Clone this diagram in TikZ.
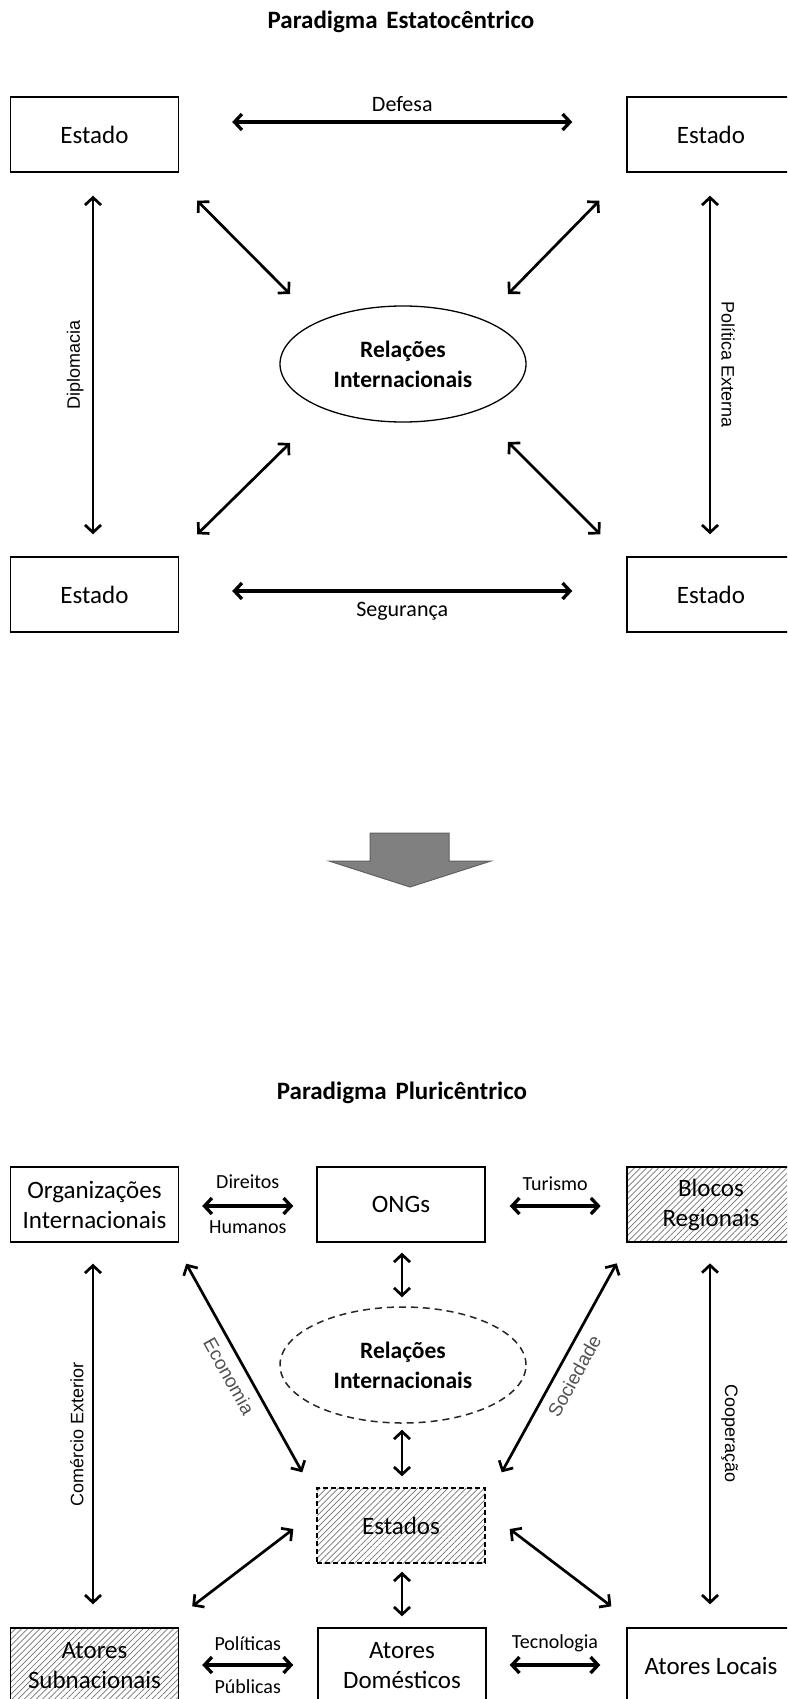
\documentclass[tikz,border=0pt]{standalone}
\usepackage{fontspec}
\setmainfont{Carlito}
\newfontfamily\arialfont{Liberation Sans}
\usetikzlibrary{arrows.meta,shapes.geometric,patterns.meta}

\newcommand\lblsmall{\fontsize{20}{24}\selectfont}
\newcommand\lblbig{\fontsize{22}{26}\selectfont}
\newcommand\vlbl{\arialfont\fontsize{18}{22}\selectfont}
\newcommand\glbl{\arialfont\fontsize{19}{22}\selectfont}

\begin{document}
\begin{tikzpicture}[x=1pt,y=-1pt,
  every node/.style={inner sep=0pt},
  box/.style={draw, line width=1.4pt, minimum width=168pt, minimum height=75pt,
    align=center, font=\fontsize{25}{30}\selectfont},
  hatched/.style={pattern={Lines[angle=45,distance=4.3pt,line width=0.7pt]},
    pattern color=black!55},
  rel/.style={ellipse, draw, line width=1.3pt, minimum width=246pt,
    minimum height=116pt, align=center,
    font=\bfseries\fontsize{23.5}{30}\selectfont},
  arr/.style={{Straight Barb[length=7.5pt,width=16pt]}-{Straight Barb[length=7.5pt,width=16pt]},
    line width=2.7pt},
  harr/.style={arr, line width=3.3pt},
  ttl/.style={anchor=base, font=\bfseries\fontsize{25}{30}\selectfont}
]
\clip (0,0) rectangle (787,1699);

% ---------- state-centric paradigm ----------
\node[ttl] (t1) at (401,29) {Paradigma\hspace{0.35em}Estatocêntrico};

\node[box] (e1) at (94.5,134.5) {Estado};
\node[box] (e2) at (711,134.5) {Estado};
\node[box] (e3) at (94.5,594.5) {Estado};
\node[box] (e4) at (711,594.5) {Estado};
\node[rel] (ri1) at (403,364) {Relações\\Internacionais};

\draw[harr] ([shift={(53,-12.5)}]e1.east) -- ([shift={(-54,-12.5)}]e2.west)
  node[midway, anchor=base, yshift=10pt, font=\lblbig] {Defesa};
\draw[harr] ([shift={(53,-3.5)}]e3.east) -- ([shift={(-54,-3.5)}]e4.west)
  node[midway, anchor=base, yshift=-25pt, font=\lblbig] {Segurança};

\draw[arr] ([shift={(-1.5,23)}]e1.south) -- ([shift={(-1.5,-22)}]e3.north)
  node[midway, rotate=90, anchor=south, inner sep=8pt, font=\vlbl] {Diplomacia};
\draw[arr] ([shift={(-1,23)}]e2.south) -- ([shift={(-1,-22)}]e4.north)
  node[midway, rotate=-90, anchor=south, inner sep=10pt, font=\vlbl] {Política Externa};

\draw[arr] ([shift={(18,28)}]e1.south east) -- ([shift={(-113,-70)}]ri1.center);
\draw[arr] ([shift={(-27,28)}]e2.south west) -- ([shift={(105,-70)}]ri1.center);
\draw[arr] ([shift={(-113,79)}]ri1.center) -- ([shift={(18,-22)}]e3.north east);
\draw[arr] ([shift={(105,78)}]ri1.center) -- ([shift={(-26,-22)}]e4.north west);

% ---------- transition arrow ----------
\draw[fill=black!50, draw=black!62, line width=1pt]
  (370,833) -- (449,833) -- (449,861) -- (491,861) -- (410,887)
  -- (329,861) -- (370,861) -- cycle;

% ---------- pluricentric paradigm ----------
\node[ttl] (t2) at (402,1099) {Paradigma\hspace{0.35em}Pluricêntrico};

\node[box] (oi) at (94.5,1204.5) {Organizações\\Internacionais};
\node[box] (ongs) at (401,1204.5) {ONGs};
\node[box, hatched] (blocos) at (711,1204.5) {Blocos\\Regionais};
\node[rel, draw=black!85, line width=1.5pt, dash pattern=on 7pt off 5pt] (ri2) at (403,1365)
  {Relações\\Internacionais};
\node[box, hatched, dash pattern=on 5pt off 3pt] (estados) at (401,1525.5) {Estados};
\node[box, hatched] (subn) at (94.5,1665.5) {Atores\\Subnacionais};
\node[box] (dom) at (402,1665.5) {Atores\\Domésticos};
\node[box] (locais) at (711,1665.5) {Atores Locais};

\draw[harr] ([shift={(23,1.5)}]oi.east) -- ([shift={(-23,1.5)}]ongs.west)
  node[midway, anchor=base, yshift=18pt, font=\lblsmall] {Direitos}
  node[midway, anchor=base, yshift=-27pt, font=\lblsmall] {Humanos};
\draw[harr] ([shift={(24,1.5)}]ongs.east) -- ([shift={(-26,1.5)}]blocos.west)
  node[midway, anchor=base, yshift=16pt, font=\lblsmall] {Turismo};

\draw[arr] ([shift={(1,10)}]ongs.south) -- ([shift={(-1,-9)}]ri2.north);
\draw[arr] ([shift={(-1,6)}]ri2.south) -- ([shift={(1,-11)}]estados.north);
\draw[arr] ([shift={(1,8)}]estados.south) -- ([shift={(0,-11)}]dom.north);

\draw[arr] ([shift={(-1.5,21)}]oi.south) -- ([shift={(-1.5,-23)}]subn.north)
  node[midway, rotate=90, anchor=south, inner sep=8pt, font=\vlbl] {Comércio Exterior};
\draw[arr] ([shift={(-1,21)}]blocos.south) -- ([shift={(-1,-23)}]locais.north)
  node[midway, rotate=-90, anchor=south, inner sep=10pt, font=\vlbl] {Cooperação};

\draw[arr] ([shift={(7,21)}]oi.south east) -- ([shift={(-14,-15)}]estados.north west)
  node[pos=0.5, sloped, below, inner sep=9pt, font=\glbl, text=black!68] {Economia};
\draw[arr] ([shift={(-10,21)}]blocos.south west) -- ([shift={(16,-15)}]estados.north east)
  node[pos=0.5, sloped, below, inner sep=9pt, font=\glbl, text=black!68] {Sociedade};

\draw[arr] ([shift={(-23,3.5)}]estados.west) -- ([shift={(13,-21)}]subn.north east);
\draw[arr] ([shift={(24,3.5)}]estados.east) -- ([shift={(-15,-21)}]locais.north west);

\draw[harr] ([shift={(23,-0.5)}]subn.east) -- ([shift={(-24,-0.5)}]dom.west)
  node[midway, anchor=base, yshift=15pt, font=\lblsmall] {Políticas}
  node[midway, anchor=base, yshift=-28pt, font=\lblsmall] {Públicas};
\draw[harr] ([shift={(23,-0.5)}]dom.east) -- ([shift={(-26,-0.5)}]locais.west)
  node[midway, anchor=base, yshift=17pt, font=\lblsmall] {Tecnologia};
\end{tikzpicture}
\end{document}
